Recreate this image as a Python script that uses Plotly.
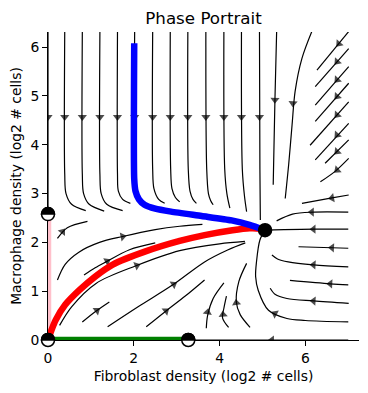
import plotly.graph_objects as go

# ---------------- axes ----------------
X_RANGE = [0, 7.25]
Y_RANGE = [0, 6.31]
X_TICKS = [0, 2, 4, 6]
Y_TICKS = [0, 1, 2, 3, 4, 5, 6]
TITLE = "Phase Portrait"
X_LABEL = "Fibroblast density (log2 # cells)"
Y_LABEL = "Macrophage density (log2 # cells)"

# ---------------- trajectories ----------------
RED_X = [0.0, 0.08, 0.18, 0.40, 0.73, 1.10, 1.50, 2.29, 3.07, 3.65, 4.30, 4.70, 4.95, 5.06]
RED_Y = [0.0, 0.20, 0.41, 0.72, 1.02, 1.30, 1.54, 1.82, 2.03, 2.15, 2.25, 2.29, 2.28, 2.25]
BLUE_X = [2.01, 2.01, 2.04, 2.12, 2.25, 2.50, 2.87, 3.58, 4.28, 4.70, 5.06]
BLUE_Y = [6.08, 3.30, 3.05, 2.88, 2.77, 2.69, 2.63, 2.54, 2.45, 2.36, 2.25]
PINK_X = [0.0, 0.0]
PINK_Y = [0.0, 2.58]
GREEN_X = [0.0, 3.27]
GREEN_Y = [0.0, 0.0]

# ---------------- fixed points ----------------
HALF_FP_X = [0.0, 0.0, 3.27]
HALF_FP_Y = [0.0, 2.58, 0.0]
STABLE_FP_X = [5.06]
STABLE_FP_Y = [2.25]

# ---------------- streamlines ----------------
TOP_LINES = [
    ([0.0, 0.0], [6.31, 2.65]),
    ([0.39, 0.39, 0.42, 0.55, 0.88], [6.31, 3.40, 3.00, 2.78, 2.65]),
    ([0.80, 0.80, 0.83, 0.96, 1.31], [6.31, 3.40, 3.00, 2.78, 2.64]),
    ([1.21, 1.21, 1.24, 1.37, 1.74], [6.31, 3.40, 3.00, 2.78, 2.65]),
    ([1.62, 1.62, 1.64, 1.74, 1.92], [6.31, 3.40, 3.05, 2.88, 2.80]),
    ([2.02, 2.02, 2.05], [6.31, 3.30, 3.00]),
    ([2.44, 2.44, 2.47, 2.58, 2.72], [6.31, 3.50, 3.10, 2.88, 2.80]),
    ([2.85, 2.86, 2.89, 2.97, 3.07], [6.31, 3.50, 3.10, 2.92, 2.83]),
    ([3.26, 3.27, 3.31, 3.38, 3.46], [6.31, 3.50, 3.05, 2.88, 2.80]),
    ([3.68, 3.70, 3.74, 3.79, 3.85], [6.31, 3.50, 3.00, 2.86, 2.77]),
    ([4.10, 4.12, 4.17, 4.24], [6.31, 3.50, 3.00, 2.70]),
    ([4.51, 4.53, 4.58, 4.63], [6.31, 3.50, 2.95, 2.63]),
    ([4.93, 4.94, 4.95], [6.31, 3.50, 2.46]),
    ([5.33, 5.29, 5.25], [6.32, 4.90, 3.18]),
    ([6.15, 5.92, 5.76, 5.69, 5.61, 5.53], [6.32, 5.77, 5.09, 4.41, 3.59, 2.90]),
]
RIGHT_LINES = [
    ([7.01, 6.27], [6.32, 5.53]),
    ([7.01, 6.23], [5.97, 5.19]),
    ([7.01, 6.23], [5.60, 4.81]),
    ([7.01, 6.23], [5.26, 4.48]),
    ([7.01, 6.11], [4.88, 3.99]),
    ([7.01, 6.23], [4.44, 3.69]),
    ([7.01, 6.46], [4.10, 3.62]),
    ([7.01, 6.70, 6.35], [3.72, 3.46, 3.24]),
    ([7.01, 6.62, 5.92], [2.97, 2.91, 2.80]),
    ([7.00, 6.20, 5.70, 5.33], [2.62, 2.62, 2.58, 2.44]),
    ([7.00, 6.20, 5.50, 5.06], [2.27, 2.27, 2.26, 2.25]),
    ([7.00, 6.62, 5.84], [1.88, 1.89, 1.91]),
    ([7.00, 6.19, 5.60, 5.35, 5.22], [1.50, 1.54, 1.60, 1.66, 1.74]),
    ([7.00, 6.58, 5.64], [1.13, 1.15, 1.22]),
    ([7.01, 6.19, 5.57, 5.30, 5.18], [0.75, 0.80, 0.85, 0.93, 1.06]),
    ([7.00, 6.00, 5.57, 5.14, 4.90, 4.84, 4.86, 4.94, 5.06], [0.37, 0.40, 0.44, 0.61, 1.02, 1.30, 1.60, 2.05, 2.25]),
    ([7.00, 3.40], [0.0, 0.0]),
]
LOWER_LINES = [
    ([4.71, 4.48, 4.39, 4.45, 4.63], [0.26, 0.52, 0.78, 1.20, 1.57]),
    ([4.21, 4.07, 4.10, 4.16], [0.26, 0.45, 0.65, 0.90]),
    ([3.69, 3.72, 3.85, 4.10], [0.24, 0.50, 0.85, 1.17]),
    ([0.22, 0.45, 0.92], [2.08, 2.30, 2.43]),
    ([0.22, 0.40, 0.72, 1.20, 1.74, 2.50, 3.07, 3.60], [1.23, 1.55, 1.80, 2.00, 2.12, 2.26, 2.33, 2.37]),
    ([0.84, 1.10, 1.35, 1.90, 2.50], [1.33, 1.48, 1.60, 1.85, 1.99]),
    ([0.27, 0.55, 1.12, 2.05, 3.07, 4.00, 4.59], [0.30, 0.68, 1.16, 1.52, 1.83, 1.97, 2.02]),
    ([0.80, 1.10, 1.43], [0.37, 0.58, 0.78]),
    ([1.39, 2.10, 2.91, 3.65, 4.20, 4.60], [0.27, 0.68, 1.13, 1.60, 1.85, 1.99]),
    ([2.29, 2.73, 3.20, 3.65], [0.27, 0.58, 0.90, 1.23]),
]
# arrows: (tail x, tail y, head x, head y)
ARROWS = [
    (0.0, 4.70, 0.0, 4.57), (0.39, 4.70, 0.39, 4.57), (0.80, 4.70, 0.80, 4.57),
    (1.21, 4.70, 1.21, 4.57), (1.62, 4.70, 1.62, 4.57), (2.02, 4.70, 2.02, 4.57),
    (2.44, 4.70, 2.44, 4.57), (2.85, 4.70, 2.85, 4.57), (3.26, 4.70, 3.26, 4.57),
    (3.68, 4.70, 3.68, 4.57), (4.10, 4.70, 4.10, 4.57), (4.51, 4.70, 4.51, 4.57),
    (4.93, 4.70, 4.93, 4.57), (5.295, 5.05, 5.29, 4.92), (5.72, 4.98, 5.71, 4.85),
    (6.86, 6.15, 6.78, 6.07), (6.82, 5.78, 6.74, 5.70), (6.82, 5.41, 6.74, 5.33),
    (6.82, 5.07, 6.74, 4.99), (6.82, 4.69, 6.74, 4.61), (6.82, 4.28, 6.74, 4.20),
    (6.82, 3.93, 6.74, 3.86), (6.82, 3.54, 6.74, 3.48), (6.75, 2.93, 6.62, 2.91),
    (6.30, 2.62, 6.15, 2.62), (6.30, 2.27, 6.19, 2.27), (6.75, 1.885, 6.62, 1.89),
    (6.30, 1.535, 6.19, 1.54), (6.70, 1.145, 6.58, 1.15), (6.30, 0.795, 6.19, 0.80),
    (5.42, 0.48, 5.29, 0.54), (5.35, 0.0, 5.22, 0.0),
    (4.41, 0.64, 4.39, 0.76), (4.09, 0.42, 4.08, 0.52), (3.70, 0.46, 3.72, 0.57),
    (0.27, 2.14, 0.34, 2.22), (1.60, 2.095, 1.74, 2.12), (1.26, 1.555, 1.38, 1.615),
    (1.93, 1.48, 2.07, 1.525), (1.00, 0.515, 1.14, 0.605), (2.80, 1.07, 2.93, 1.14),
    (2.62, 0.505, 2.75, 0.595),
]

fig = go.Figure()

for xs, ys in TOP_LINES + RIGHT_LINES + LOWER_LINES:
    fig.add_trace(go.Scatter(
        x=xs, y=ys, mode="lines",
        line=dict(color="black", width=1.2, shape="spline", smoothing=0.9),
        hoverinfo="skip", showlegend=False))

arrow_x, arrow_y, arrow_s = [], [], []
for xt, yt, xh, yh in ARROWS:
    arrow_x += [xt, xh]
    arrow_y += [yt, yh]
    arrow_s += [0, 8]
fig.add_trace(go.Scatter(
    x=arrow_x, y=arrow_y, mode="markers",
    marker=dict(symbol="triangle-up", size=arrow_s, color="black",
                angleref="previous", line=dict(width=0)),
    hoverinfo="skip", showlegend=False))

for xs, ys, col in [(PINK_X, PINK_Y, "pink"), (GREEN_X, GREEN_Y, "green"),
                    (RED_X, RED_Y, "red"), (BLUE_X, BLUE_Y, "blue")]:
    fig.add_trace(go.Scatter(
        x=xs, y=ys, mode="lines",
        line=dict(color=col, width=6.5, shape="spline", smoothing=0.6),
        hoverinfo="skip", showlegend=False))

fig.add_trace(go.Scatter(
    x=STABLE_FP_X, y=STABLE_FP_Y, mode="markers",
    marker=dict(symbol="circle", size=13, color="black", line=dict(color="black", width=1.5)),
    hoverinfo="skip", showlegend=False))

R = 6.5
K = 0.5523 * R
shapes = []
for fx, fy in zip(HALF_FP_X, HALF_FP_Y):
    if fx == X_RANGE[0]:
        xref, xa = "x domain", 0
    else:
        xref, xa = "x", fx
    if fy == Y_RANGE[0]:
        yref, ya = "y domain", 0
    else:
        yref, ya = "y", fy
    base = dict(xref=xref, yref=yref, xsizemode="pixel", ysizemode="pixel",
                xanchor=xa, yanchor=ya, layer="above")
    shapes.append(dict(type="circle", x0=-R, x1=R, y0=-R, y1=R,
                       fillcolor="white", line=dict(color="black", width=1.5), **base))
    path = (f"M {-R},0 C {-R},{K} {-K},{R} 0,{R} C {K},{R} {R},{K} {R},0 Z")
    shapes.append(dict(type="path", path=path, fillcolor="black",
                       line=dict(color="black", width=1.5), **base))

# the page body has an 8 px margin, so the figure is 8 px smaller than the window
W, H = 360, 385
fig.update_layout(
    width=W, height=H,
    margin=dict(l=40, r=9, t=24, b=53),
    paper_bgcolor="white", plot_bgcolor="white",
    font=dict(family="DejaVu Sans", size=13.9, color="black"),
    title=dict(text=TITLE, x=0.5, xref="paper", y=1 - 10 / H, yref="container",
               yanchor="middle", font=dict(size=16.7, color="black")),
    shapes=shapes,
    showlegend=False,
)
fig.update_xaxes(range=X_RANGE, tickvals=X_TICKS, showgrid=False, zeroline=False,
                 showline=True, linecolor="black", linewidth=1.1, ticks="outside",
                 ticklen=4.9, tickwidth=1.1, tickcolor="black", layer="below traces",
                 automargin=False, title=dict(text=X_LABEL, standoff=6,
                                              font=dict(size=13.9)))
fig.update_yaxes(range=Y_RANGE, tickvals=Y_TICKS, showgrid=False, zeroline=False,
                 showline=True, linecolor="black", linewidth=1.1, ticks="outside",
                 ticklen=4.9, tickwidth=1.1, tickcolor="black", layer="below traces",
                 automargin=False, title=dict(text=Y_LABEL, standoff=6,
                                              font=dict(size=13.9)))

fig.write_html("out.html")
